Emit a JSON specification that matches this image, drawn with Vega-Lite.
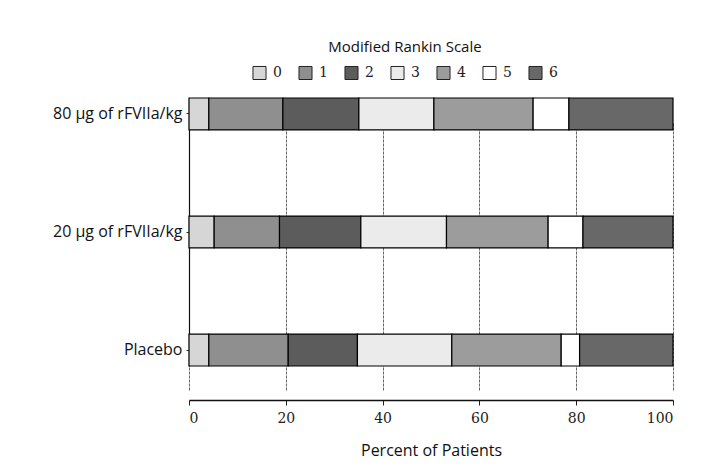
{
  "$schema": "https://vega.github.io/schema/vega-lite/v6.json",
  "autosize": "none",
  "width": 484,
  "height": 312,
  "padding": {"left": 189, "top": 88, "right": 28, "bottom": 72},
  "background": "white",
  "data": {
    "values": [
      {"group": "80 μg of rFVIIa/kg", "score": 0, "pct": 4.1},
      {"group": "80 μg of rFVIIa/kg", "score": 1, "pct": 15.3},
      {"group": "80 μg of rFVIIa/kg", "score": 2, "pct": 15.7},
      {"group": "80 μg of rFVIIa/kg", "score": 3, "pct": 15.5},
      {"group": "80 μg of rFVIIa/kg", "score": 4, "pct": 20.5},
      {"group": "80 μg of rFVIIa/kg", "score": 5, "pct": 7.4},
      {"group": "80 μg of rFVIIa/kg", "score": 6, "pct": 21.5},
      {"group": "20 μg of rFVIIa/kg", "score": 0, "pct": 5.2},
      {"group": "20 μg of rFVIIa/kg", "score": 1, "pct": 13.5},
      {"group": "20 μg of rFVIIa/kg", "score": 2, "pct": 16.8},
      {"group": "20 μg of rFVIIa/kg", "score": 3, "pct": 17.7},
      {"group": "20 μg of rFVIIa/kg", "score": 4, "pct": 21.0},
      {"group": "20 μg of rFVIIa/kg", "score": 5, "pct": 7.2},
      {"group": "20 μg of rFVIIa/kg", "score": 6, "pct": 18.6},
      {"group": "Placebo", "score": 0, "pct": 4.1},
      {"group": "Placebo", "score": 1, "pct": 16.4},
      {"group": "Placebo", "score": 2, "pct": 14.3},
      {"group": "Placebo", "score": 3, "pct": 19.5},
      {"group": "Placebo", "score": 4, "pct": 22.6},
      {"group": "Placebo", "score": 5, "pct": 3.8},
      {"group": "Placebo", "score": 6, "pct": 19.3}
    ]
  },
  "mark": {"type": "bar", "stroke": "black", "strokeWidth": 1.2},
  "encoding": {
    "y": {
      "field": "group",
      "type": "nominal",
      "sort": ["80 μg of rFVIIa/kg", "20 μg of rFVIIa/kg", "Placebo"],
      "scale": {"range": [10, 278], "paddingInner": 0.73, "paddingOuter": 0},
      "axis": {
        "title": null,
        "ticks": true,
        "tickSize": 3,
        "tickColor": "#333",
        "labelPadding": 4,
        "labelFontSize": 16,
        "labelFontWeight": 500,
        "labelColor": "#111",
        "labelFont": "Open Sans",
        "domainColor": "#111",
        "domainWidth": 1.2,
        "grid": false
      }
    },
    "x": {
      "field": "pct",
      "type": "quantitative",
      "stack": "zero",
      "scale": {"domain": [0, 100], "nice": false},
      "axis": {
        "values": [0, 20, 40, 60, 80, 100],
        "title": "Percent of Patients",
        "titleFont": "Open Sans",
        "titleFontSize": 16,
        "titleFontWeight": 500,
        "titleColor": "#111",
        "titlePadding": 17,
        "labelFont": "DejaVu Serif",
        "labelFontSize": 14,
        "labelColor": "#222",
        "labelPadding": 6,
        "tickSize": 5,
        "tickColor": "#222",
        "domainColor": "#111",
        "domainWidth": 1.5,
        "grid": true,
        "gridColor": "#555",
        "gridDash": [3, 1],
        "gridWidth": 0.9
      }
    },
    "color": {
      "field": "score",
      "type": "nominal",
      "scale": {
        "domain": [0, 1, 2, 3, 4, 5, 6],
        "range": ["#d6d6d6", "#8f8f8f", "#5c5c5c", "#ebebeb", "#9c9c9c", "#ffffff", "#686868"]
      },
      "legend": {
        "title": "Modified Rankin Scale",
        "orient": "none",
        "legendX": 63,
        "legendY": -48,
        "direction": "horizontal",
        "titleAnchor": "middle",
        "titleFont": "Open Sans",
        "titleFontSize": 15,
        "titleFontWeight": 500,
        "titleColor": "#111",
        "titlePadding": 10,
        "labelFont": "DejaVu Serif",
        "labelFontSize": 14,
        "labelColor": "#222",
        "labelOffset": 6,
        "columnPadding": 14,
        "symbolType": "square",
        "symbolSize": 170,
        "symbolStrokeColor": "#222",
        "symbolStrokeWidth": 1
      }
    },
    "order": {"field": "score", "type": "quantitative"}
  },
  "config": {"view": {"stroke": null}}
}
